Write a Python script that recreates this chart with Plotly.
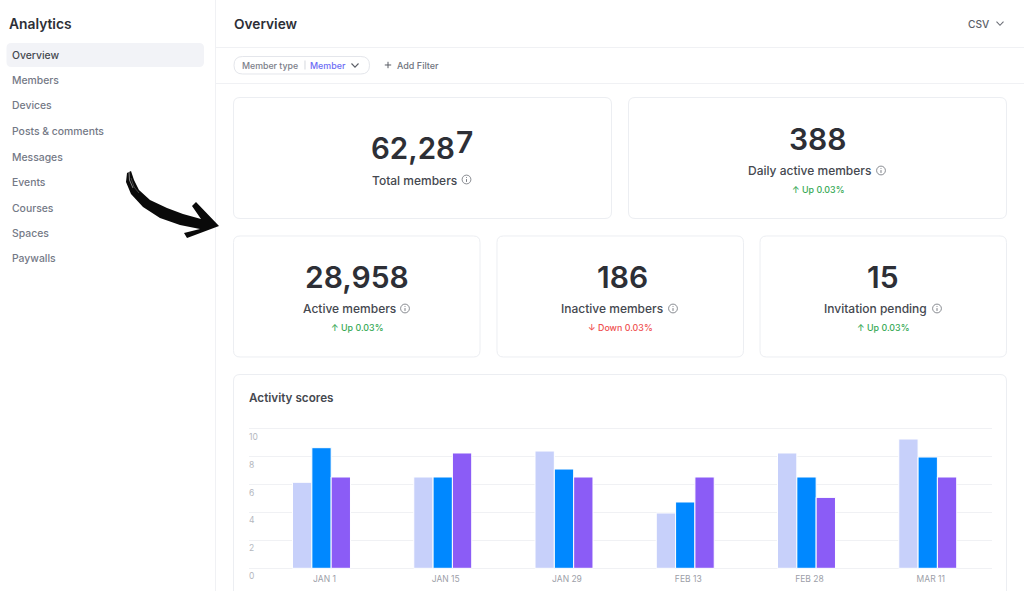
import plotly.graph_objects as go

W = 1024
H = 591
FONT = "Inter"

# chart data
dates = ["JAN 1", "JAN 15", "JAN 29", "FEB 13", "FEB 28", "MAR 11"]
series_a = [6.16, 6.54, 8.40, 3.96, 8.26, 9.26]
series_b = [8.64, 6.54, 7.11, 4.75, 6.54, 7.97]
series_c = [6.54, 8.26, 6.54, 6.54, 5.08, 6.54]
y_ticks = [0, 2, 4, 6, 8, 10]

nav_items = ["Overview", "Members", "Devices", "Posts & comments", "Messages",
             "Events", "Courses", "Spaces", "Paywalls"]
nav_y = [55, 80.5, 105.5, 131, 157, 182.5, 208, 233, 258.5]

card_labels = ["Daily active members", "Active members", "Inactive members", "Invitation pending"]
card_values = ["388", "28,958", "186", "15"]
card_deltas = ["↑ Up 0.03%", "↑ Up 0.03%", "↓ Down 0.03%", "↑ Up 0.03%"]

GREEN = "#34a853"
RED = "#ef4f4f"
BORDER = "#eceef2"
DARK = "#2d2f36"
MID = "#45484f"
GREY = "#747986"
PAD = 2.5  # annotation boxes keep this much room around their text

# pixel rows of y=0 and y=10 in the picture
Y0_PX = 568.3
Y10_PX = 428.7
Y_UNIT = (Y0_PX - Y10_PX) / 10
Y_LOW = -1
Y_HIGH = 10.5


def pt(x, y):
    # screen pixels to paper coordinates
    return f"{x / W:.5f},{1 - y / H:.5f}"


def round_rect(x0, y0, x1, y1, r):
    return (f"M{pt(x0 + r, y0)} L{pt(x1 - r, y0)} Q{pt(x1, y0)} {pt(x1, y0 + r)} "
            f"L{pt(x1, y1 - r)} Q{pt(x1, y1)} {pt(x1 - r, y1)} "
            f"L{pt(x0 + r, y1)} Q{pt(x0, y1)} {pt(x0, y1 - r)} "
            f"L{pt(x0, y0 + r)} Q{pt(x0, y0)} {pt(x0 + r, y0)} Z")


def poly(points, close=True):
    s = "M" + " L".join(pt(x, y) for x, y in points)
    return s + (" Z" if close else "")


shapes = []


def add_path(path, fill=None, line=None, width=1):
    shapes.append(dict(type="path", path=path, xref="paper", yref="paper", layer="below",
                       fillcolor=fill if fill else "rgba(0,0,0,0)",
                       line=dict(color=line if line else "rgba(0,0,0,0)", width=width if line else 0)))


annotations = []


def add_text(text, x, y, size, color, anchor="left", weight=400):
    if anchor == "left":
        x -= PAD
    elif anchor == "right":
        x += PAD
    annotations.append(dict(text=text, x=x / W, y=1 - y / H, xref="paper", yref="paper",
                            xanchor=anchor, yanchor="middle", showarrow=False,
                            font=dict(family=FONT, size=size, color=color, weight=weight)))


def info_icon(x, y):
    r = 4.4
    shapes.append(dict(type="circle", xref="paper", yref="paper", layer="below",
                       x0=(x - r) / W, x1=(x + r) / W, y0=1 - (y + r) / H, y1=1 - (y - r) / H,
                       line=dict(color="#6b6e76", width=0.8)))
    add_path(poly([(x, y - 0.4), (x, y + 2.4)], close=False), line="#6b6e76", width=0.9)
    add_path(poly([(x, y - 2.4), (x, y - 1.6)], close=False), line="#6b6e76", width=0.9)


def chevron(x, y, color):
    add_path(poly([(x - 3.5, y - 1.8), (x, y + 1.8), (x + 3.5, y - 1.8)], close=False), line=color, width=1.1)


# page frame
add_path(poly([(215.5, 0), (215.5, H)], close=False), line="#f0f1f4")
add_path(poly([(215.5, 47.5), (W, 47.5)], close=False), line="#f0f1f4")
add_path(poly([(215.5, 83.5), (W, 83.5)], close=False), line="#f0f1f4")

# sidebar
add_text("Analytics", 9.5, 23.5, 13.8, DARK, weight=600)
add_path(round_rect(6.5, 43, 204, 67, 5), fill="#f2f3f7")
for i, item in enumerate(nav_items):
    add_text(item, 12.5, nav_y[i], 10.4, MID if i == 0 else GREY, weight=500)

# header
add_text("Overview", 234, 23.5, 13.7, DARK, weight=600)
add_text("CSV", 968, 23.5, 10.2, "#5b5e66", weight=500)
chevron(1000, 23.5, "#6b6e76")

# filter row
add_path(round_rect(234, 56.5, 369.5, 74, 8.7), line="#e4e6eb")
add_text("Member type", 242.7, 65, 8.8, "#7c808a", weight=500)
add_path(poly([(305, 60.5), (305, 69.5)], close=False), line="#d5d8df")
add_text("Member", 310, 65, 8.9, "#6c6cf5", weight=500)
chevron(355, 65.3, "#5b5e66")
add_path(poly([(384.8, 65), (391.2, 65)], close=False), line="#5b5e66")
add_path(poly([(388, 61.8), (388, 68.2)], close=False), line="#5b5e66")
add_text("Add Filter", 397, 65, 9, "#6f7480", weight=500)

# cards
add_path(round_rect(233.5, 97.5, 611.5, 218.5, 6.5), fill="white", line=BORDER)
add_path(round_rect(628.5, 97.5, 1006.5, 218.5, 6.5), fill="white", line=BORDER)
add_path(round_rect(233.5, 236, 480, 357, 6.5), fill="white", line=BORDER)
add_path(round_rect(497, 236, 743.5, 357, 6.5), fill="white", line=BORDER)
add_path(round_rect(760, 236, 1006.5, 357, 6.5), fill="white", line=BORDER)
add_path(f"M{pt(233.5, 596)} L{pt(233.5, 381)} Q{pt(233.5, 374.5)} {pt(240, 374.5)} "
         f"L{pt(1000, 374.5)} Q{pt(1006.5, 374.5)} {pt(1006.5, 381)} L{pt(1006.5, 596)}",
         fill="white", line=BORDER)

# the 7 sits higher than the rest of the number in the original
add_text("62,28", 454, 148, 29.5, DARK, anchor="right", weight=600)
add_text("7", 456, 142, 30, DARK, weight=600)
add_text("Total members", 372.5, 180, 12, MID, weight=500)
info_icon(466.5, 179.5)

card_cx = [817.5, 357, 622, 883]
value_y = [139, 277, 277, 277]
label_x = [748.5, 303, 561.5, 824.5]
icon_x = [881, 405, 673, 937]
label_y = [170.5, 308.5, 308.5, 308.5]
delta_y = [189.5, 327.5, 327.5, 327.5]
for i in range(4):
    add_text(card_values[i], card_cx[i], value_y[i], 30, DARK, anchor="center", weight=600)
    add_text(card_labels[i], label_x[i], label_y[i], 12, MID, weight=500)
    info_icon(icon_x[i], label_y[i])
    color = RED if "Down" in card_deltas[i] else GREEN
    add_text(card_deltas[i], card_cx[i] - (2 if "Down" in card_deltas[i] else 0), delta_y[i], 8.9, color,
             anchor="center", weight=500)

add_text("Activity scores", 249, 397.5, 11.7, MID, weight=600)

# brush arrow
arrow_pts = [(131, 171), (134, 180), (139, 190), (150, 200), (167, 208), (183, 214), (201, 219),
             (192, 206), (196, 202), (219, 226), (187, 238), (184, 233), (200, 229),
             (180, 225), (160, 218), (143, 207), (131, 194), (126, 182), (127, 173)]
add_path(poly(arrow_pts), fill="#0a0a0a")
add_path(poly([(129, 172), (129.5, 180), (133, 188)], close=False), line="#ffffff", width=0.5)
add_path(poly([(131, 178), (134, 187), (139, 193)], close=False), line="#9a9a9a", width=0.4)

fig = go.Figure()
for values, color in [(series_a, "#c7d0fa"), (series_b, "#0088ff"), (series_c, "#8b5cf6")]:
    fig.add_trace(go.Bar(x=dates, y=values, marker=dict(color=color, line=dict(color="white", width=1))))

fig.update_layout(
    width=W, height=H,
    margin=dict(l=0, r=0, t=0, b=0),
    paper_bgcolor="white",
    plot_bgcolor="rgba(0,0,0,0)",
    showlegend=False,
    barmode="group",
    bargap=0.522,
    bargroupgap=0,
    font=dict(family=FONT),
    shapes=shapes,
    annotations=annotations,
    xaxis=dict(domain=[249 / W, 992 / W], type="category", range=[-0.598, 5.53],
               anchor="free", position=1 - Y0_PX / H,
               showgrid=False, zeroline=False, showline=False, ticks="",
               tickfont=dict(size=8.5, color="#9da0a8", family=FONT), ticklabelshift=3, ticklabelstandoff=4),
    # range runs past 0 and 10 so the labels hung under those two lines are kept
    yaxis=dict(domain=[1 - (Y0_PX - Y_LOW * Y_UNIT) / H, 1 - (Y0_PX - Y_HIGH * Y_UNIT) / H],
               range=[Y_LOW, Y_HIGH], tickvals=y_ticks,
               showgrid=True, gridcolor="#f0f1f4", gridwidth=1, zeroline=False,
               showline=False, ticks="", ticklabelposition="inside", ticklabelshift=8,
               ticklabelstandoff=-3,
               tickfont=dict(size=8.5, color="#b4b7be", family=FONT)),
)

fig.write_html("out.html", config=dict(displayModeBar=False),
               post_script="document.body.style.margin='0';")
